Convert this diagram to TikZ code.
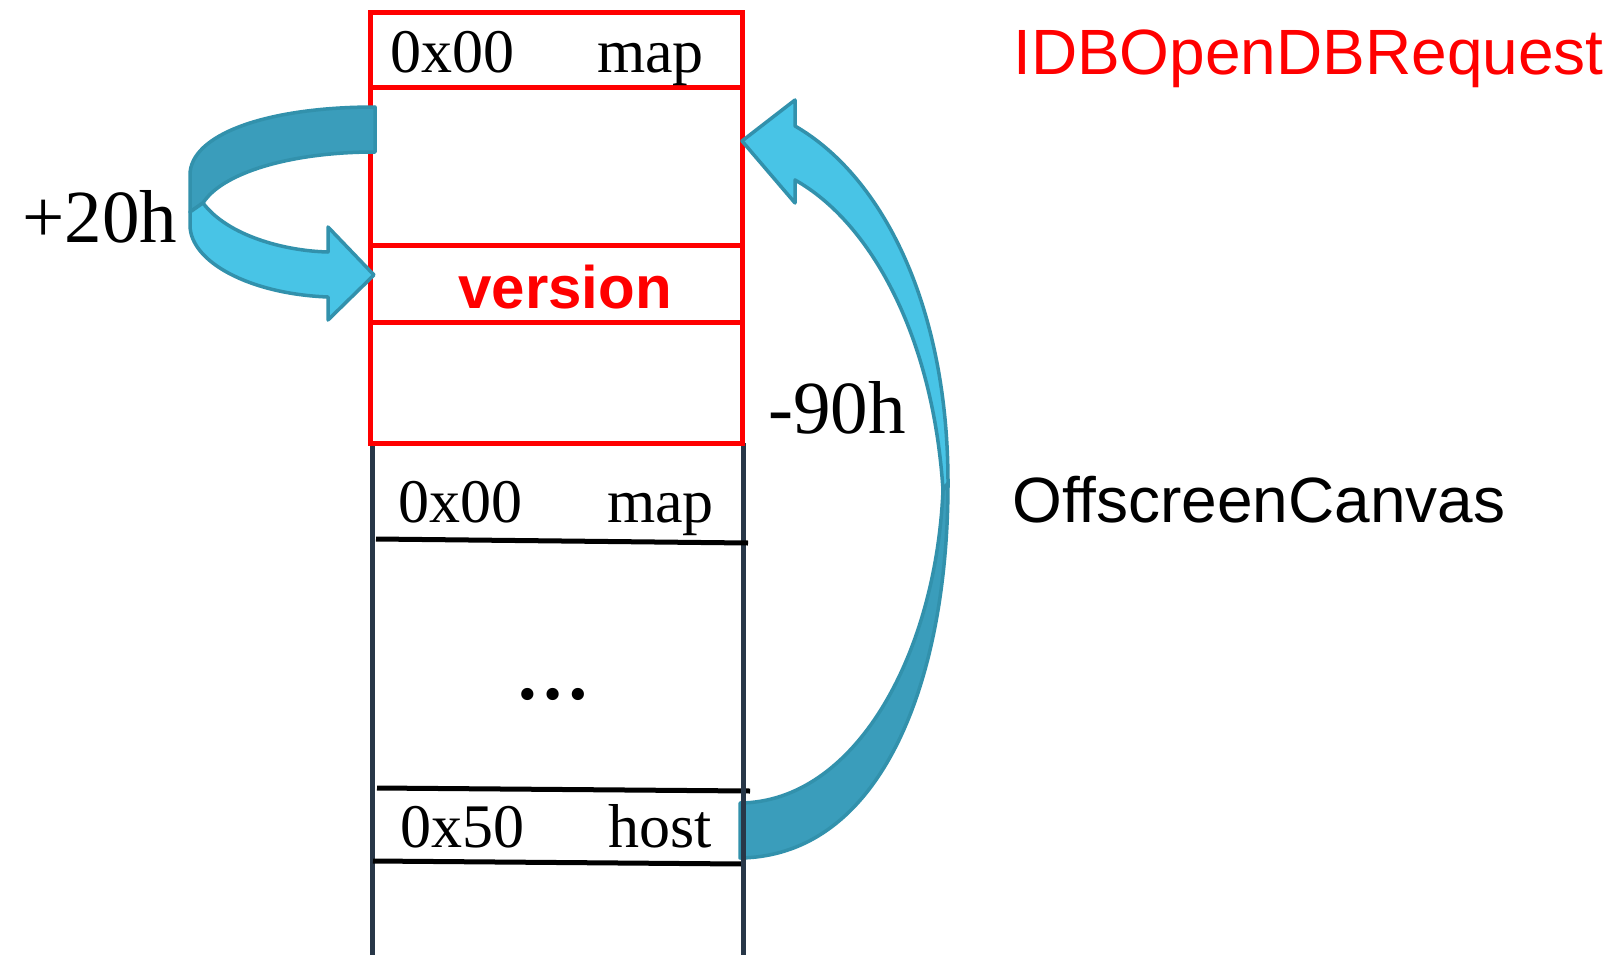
\documentclass[tikz,border=0pt]{standalone}
\usepackage{fontspec}
\setmainfont{Liberation Serif}
\newfontfamily\sansf{Liberation Sans}
\definecolor{boxred}{RGB}{255,0,0}
\definecolor{boxdark}{RGB}{40,55,72}
\definecolor{arrdark}{RGB}{58,157,187}
\definecolor{arrlight}{RGB}{72,196,230}
\definecolor{arredge}{RGB}{50,145,172}
\begin{document}
\begin{tikzpicture}[x=1pt,y=-1pt,
  serlbl/.style={font=\fontsize{62}{70}\selectfont, inner sep=0pt, anchor=base west},
  offlbl/.style={font=\fontsize{75}{80}\selectfont, inner sep=0pt, anchor=base west},
  sanslbl/.style={font=\sansf\fontsize{64}{70}\selectfont, inner sep=0pt, anchor=base west},
  redline/.style={draw=boxred, line width=5pt},
  darkline/.style={draw=boxdark, line width=5pt},
  sepline/.style={draw=black, line width=5pt},
  bandd/.style={fill=arrdark, draw=arredge, line width=3.5pt, line join=round},
  bandl/.style={fill=arrlight, draw=arredge, line width=3.5pt, line join=round}]
\useasboundingbox (0,0) rectangle (1611,955);
\fill[white] (0,0) rectangle (1611,955);

% lower (dark) object box
\draw[darkline] (372,443) -- (372,955);
\draw[darkline] (743,443) -- (743,955);
\draw[sepline] (376,539) -- (748,543);
\draw[sepline] (377,788) -- (750,791);
\draw[sepline] (373,861) -- (742,864);

% red object box
\draw[redline] (370,13) rectangle (742,443);
\draw[redline] (370,88) -- (742,88);
\draw[redline] (370,245) -- (742,245);
\draw[redline] (370,322) -- (742,322);

% left curved arrow (+20h)
\path[bandd] (375,107) .. controls (265,107) and (190,135) .. (190,175)
  -- (190,212) -- (203,203)
  .. controls (222,173) and (290,152) .. (375,152) -- cycle;
\path[bandl] (203,203) .. controls (228,236) and (285,251) .. (328,252)
  -- (328,227) -- (374,275) -- (328,320) -- (328,297)
  .. controls (250,294) and (190,262) .. (190,225) -- (190,212) -- cycle;

% right curved arrow (-90h)
\path[bandd] (740,858) .. controls (882,856) and (948,680) .. (948,483)
  -- (943,490) .. controls (936,655) and (855,802) .. (740,803) -- cycle;
\path[bandl] (948,483) .. controls (948,310) and (885,178) .. (795,126)
  -- (795,100) -- (742,141) -- (795,203) -- (795,180)
  .. controls (870,222) and (933,335) .. (943,490) -- cycle;
\draw[darkline] (743,780) -- (743,870);

% texts
\node[serlbl] (topaddr) at (390,73) {0x00};
\node[serlbl] (topmap) at (597,73) {map};
\node[font=\sansf\bfseries\fontsize{60}{66}\selectfont, text=boxred, inner sep=0pt, anchor=base] (ver) at (565,308) {version};
\node[serlbl] (lowaddr) at (398,522) {0x00};
\node[serlbl] (lowmap) at (607,522) {map};
\node[font=\bfseries\fontsize{75}{80}\selectfont, inner sep=0pt, anchor=base] (dots) at (553,699) {…};
\node[serlbl] (hostaddr) at (400,847) {0x50};
\node[serlbl] (host) at (608,847) {host};
\node[offlbl] (plus) at (22,242) {+20h};
\node[offlbl] (minus) at (768,433) {-90h};
\node[sanslbl, text=boxred] (idb) at (1013,75) {IDBOpenDBRequest};
\node[sanslbl] (osc) at (1012,522) {OffscreenCanvas};
\end{tikzpicture}
\end{document}
